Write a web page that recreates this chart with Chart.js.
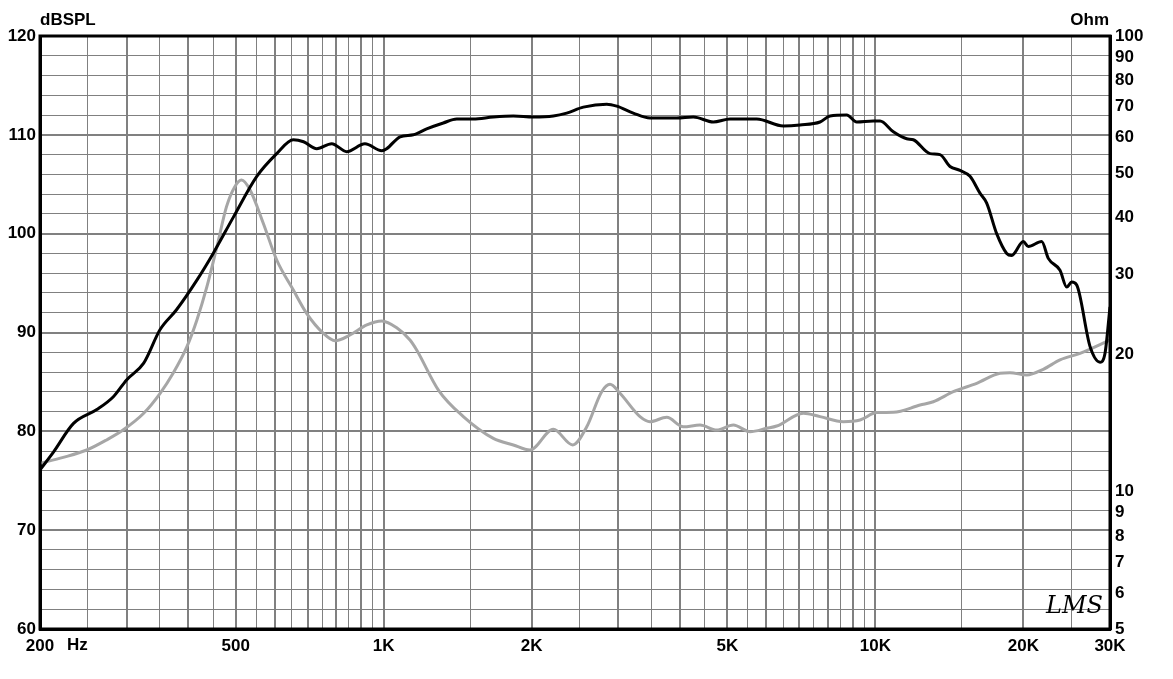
<!DOCTYPE html>
<html><head><meta charset="utf-8">
<script src="https://cdn.jsdelivr.net/npm/chart.js@4/dist/chart.umd.min.js"></script>
<style>html,body{margin:0;padding:0;background:#fff;overflow:hidden}#wrap{width:1173px;height:679px;position:relative}</style>
</head><body><div id="wrap"><canvas id="c" width="1173" height="679"></canvas></div>
<script>
// SPL response (black, left axis, dB SPL)
const splFreq = [200,213,234,261,282,300,325,351,379,417,450,495,552,606,655,687,731,784,841,916,991,1014,1080,1149,1223,1322,1408,1521,1671,1835,2015,2213,2356,2547,2842,2978,3218,3481,3944,4264,4681,5063,5737,6498,7027,7716,8087,8743,9163,9902,10220,10876,11580,11943,12916,13533,14181,14861,15575,16317,16840,17646,18494,18933,19990,20466,21788,22472,23738,24498,25076,25670,27316,28632,29308,30000];
const splDb = [76.1,77.9,80.8,82.2,83.5,85.2,86.9,90.3,92.3,95.3,98.0,101.7,105.8,108.1,109.5,109.3,108.6,109.1,108.3,109.1,108.4,108.6,109.8,110.0,110.6,111.2,111.6,111.6,111.8,111.9,111.8,111.9,112.2,112.8,113.1,112.9,112.2,111.7,111.7,111.8,111.3,111.6,111.6,110.9,111.0,111.3,111.9,112.0,111.3,111.4,111.4,110.3,109.6,109.5,108.1,108.0,106.8,106.4,105.8,104.1,103.1,100.0,98.0,97.8,99.2,98.7,99.2,97.5,96.3,94.6,95.1,94.8,88.6,87.0,87.9,92.6];
// Impedance (grey, right axis, Ohm)
const impFreq = [200,223,249,273,295,325,351,373,398,417,437,458,479,498,514,535,569,606,655,697,754,796,854,924,991,1063,1131,1167,1292,1452,1671,1835,1984,2213,2423,2588,2776,2886,3024,3321,3481,3764,4069,4399,4756,5141,5559,6011,6299,7137,7716,8605,9306,10062,10876,12326,13116,14404,16070,17922,18782,20310,21954,23738,26072,30000];
const impOhm = [11.55,11.90,12.35,12.99,13.66,14.87,16.45,18.20,20.82,23.82,28.18,34.49,42.22,46.71,48.31,45.93,38.83,32.25,27.71,24.64,22.27,21.45,22.08,23.23,23.70,22.90,21.53,20.47,16.72,14.62,13.10,12.67,12.35,13.71,12.67,13.89,16.58,17.21,16.45,14.62,14.25,14.57,13.89,14.01,13.66,14.01,13.55,13.78,13.94,14.87,14.62,14.25,14.37,14.92,14.94,15.50,15.76,16.58,17.30,18.20,18.25,18.04,18.57,19.47,20.13,21.53];
// Axis ticks / grid
const freqGrid = [200,250,300,350,400,450,500,550,600,650,700,750,800,850,900,950,1000,1500,2000,2500,3000,3500,4000,4500,5000,5500,6000,6500,7000,7500,8000,8500,9000,9500,10000,15000,20000,25000,30000];
const freqLabels = {200:'200',500:'500',1000:'1K',2000:'2K',5000:'5K',10000:'10K',20000:'20K',30000:'30K'};
const dbTicks = [60,62,64,66,68,70,72,74,76,78,80,82,84,86,88,90,92,94,96,98,100,102,104,106,108,110,112,114,116,118,120];
const ohmTicks = [5,6,7,8,9,10,20,30,40,50,60,70,80,90,100];

const FONT = {family:'"Liberation Sans", Arial, sans-serif', size:17, weight:'bold'};
const isMajorF = v => { const p = Math.pow(10, Math.floor(Math.log10(v) + 1e-9)); return Math.abs(v/p - Math.round(v/p)) < 1e-6; };

const extras = {
  id:'extras',
  afterDraw(chart){
    const {ctx, chartArea:a} = chart;
    ctx.save();
    ctx.strokeStyle = '#000'; ctx.lineWidth = 3;
    ctx.strokeRect(a.left, a.top, a.right - a.left, a.bottom - a.top);
    ctx.fillStyle = '#000';
    ctx.font = 'bold 17px "Liberation Sans", Arial, sans-serif';
    ctx.textBaseline = 'middle';
    ctx.textAlign = 'left';
    ctx.fillText('dBSPL', 40, 20);
    ctx.fillText('Hz', 67, 645);
    ctx.textAlign = 'right';
    ctx.fillText('Ohm', 1109, 20);
    ctx.textAlign = 'left';
    ctx.font = 'italic 24px "DejaVu Serif", serif';
    ctx.fillText('LMS', 1046, 607);
    ctx.restore();
  }
};

new Chart(document.getElementById('c'), {
  type:'line',
  data:{datasets:[
    {label:'SPL', data: splFreq.map((f,i)=>({x:f, y:splDb[i]})), yAxisID:'y', borderColor:'#000', borderWidth:3, pointRadius:0, cubicInterpolationMode:'monotone'},
    {label:'Impedance', data: impFreq.map((f,i)=>({x:f, y:impOhm[i]})), yAxisID:'y2', borderColor:'#a6a6a6', borderWidth:3, pointRadius:0, cubicInterpolationMode:'monotone'}
  ]},
  options:{
    responsive:false, animation:false, devicePixelRatio:1,
    layout:{padding:{top:36, left:0, right:0, bottom:0}},
    plugins:{legend:{display:false}, tooltip:{enabled:false}},
    scales:{
      x:{type:'logarithmic', min:200, max:30000,
        afterBuildTicks: s => { s.ticks = freqGrid.map(v=>({value:v})); },
        ticks:{autoSkip:false, maxRotation:0, minRotation:0, padding:7, color:'#000', font:FONT, callback:(v)=>freqLabels[v]||''},
        grid:{color:'#808080', drawTicks:false, lineWidth: c => (c.tick && isMajorF(c.tick.value)) ? 2 : 1},
        border:{display:true, color:'#000', width:3},
        afterFit: s => { s.height = 50; }
      },
      y:{type:'linear', position:'left', min:60, max:120,
        afterBuildTicks: s => { s.ticks = dbTicks.map(v=>({value:v})); },
        ticks:{autoSkip:false, padding:4, color:'#000', font:FONT, callback:(v)=> v%10===0 ? String(v) : ''},
        grid:{color:'#808080', drawTicks:false, lineWidth: c => (c.tick && c.tick.value%10===0) ? 2 : 1},
        border:{display:true, color:'#000', width:3},
        afterFit: s => { s.width = 40; }
      },
      y2:{type:'logarithmic', position:'right', min:5, max:100,
        afterBuildTicks: s => { s.ticks = ohmTicks.map(v=>({value:v})); },
        ticks:{autoSkip:false, padding:5, color:'#000', font:FONT, callback:(v)=>String(v)},
        grid:{display:false, drawTicks:false},
        border:{display:true, color:'#000', width:3},
        afterFit: s => { s.width = 63; }
      }
    }
  },
  plugins:[extras]
});
</script></body></html>
